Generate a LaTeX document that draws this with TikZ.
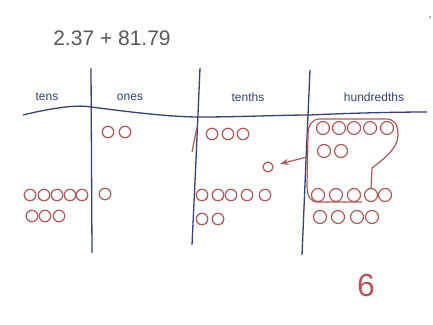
\documentclass[tikz,border=0pt]{standalone}
\usepackage{fontspec}
\setmainfont{Liberation Sans}
\usetikzlibrary{arrows.meta}
\definecolor{ink}{RGB}{55,65,120}
\definecolor{chalk}{RGB}{178,88,88}
\tikzset{>=Stealth,every node/.style={font=\small},rule/.style={ink,line width=1.3pt},link/.style={chalk,line width=1.2pt},
bead/.style={circle,draw=chalk,line width=1.2pt,minimum size=11.5pt,inner sep=0pt},head/.style={text=ink,font=\fontsize{12}{12}\selectfont}}
\begin{document}
\begin{tikzpicture}[x=1pt,y=-1pt]
\useasboundingbox (0,0) rectangle (433,324);
\node[text=black!65,font=\fontsize{21}{21}\selectfont] (sum) at (112,38){2.37 + 81.79};
\fill[black!50] (430,17) circle (1pt);
% table
\draw[rule] (23,115)..controls (60,106) and (80,105)..(91,107)..controls (130,112) and (170,117)..(200,117)..controls (240,117) and (280,115)..(310,115)..controls (350,113) and (400,112)..(427,112);
\draw[rule] (91,68)--(92,253);\draw[rule] (200,68)--(196,160)--(192,245);\draw[rule] (310,70)--(306,160)--(302,255);
\foreach \x/\t/\n in {47/tens/tens,130/ones/ones,248/tenths/tenths,374/hundredths/hund}{\node[head] (\n) at (\x,97){\t};}
% tens
\foreach \x [count=\i] in {30,44,57,70,82}{\node[bead] (tc\i) at (\x,195){};}
\foreach \x [count=\i] in {32,45,59}{\node[bead] (td\i) at (\x,216){};}
% ones
\foreach \x [count=\i] in {108,125}{\node[bead] (oa\i) at (\x,132){};}
\node[bead] (oc1) at (105,194){};
% tenths
\foreach \x [count=\i] in {212,228,243}{\node[bead] (ta\i) at (\x,134){};}
\foreach \x [count=\i] in {202,218,231,247,265}{\node[bead] (tn\i) at (\x,195){};}
\foreach \x [count=\i] in {202,218}{\node[bead] (tm\i) at (\x,219){};}
\draw[link] (197,127)--(192,152);
\node[bead,minimum size=10pt] (carry) at (268,167){};
% hundredths
\foreach \x [count=\i] in {323,339,354,370,387}{\node[bead,minimum size=13pt] (ha\i) at (\x,128){};}
\foreach \x [count=\i] in {324,341}{\node[bead,minimum size=13pt] (hb\i) at (\x,151){};}
\foreach \x [count=\i] in {318,336,354,371,385}{\node[bead,minimum size=13pt] (hc\i) at (\x,195){};}
\foreach \x [count=\i] in {320,338,357,372}{\node[bead,minimum size=13pt] (hd\i) at (\x,217){};}
\draw[link] (hc4.north)--(372,168)..controls (385,158) and (398,148)..(398,135)..controls (398,124) and (394,119)..(386,119)--(320,119)..controls (312,119) and (308,125)..(308,135)--(307,185)..controls (307,196) and (310,202)..(318,202)--(362,202);
\coordinate (grab) at (307,157);
\draw[link,->,shorten >=7pt] (grab)--(carry);
\node[text=chalk,font=\fontsize{32}{32}\selectfont] (ans) at (366,285){6};
\end{tikzpicture}
\end{document}
